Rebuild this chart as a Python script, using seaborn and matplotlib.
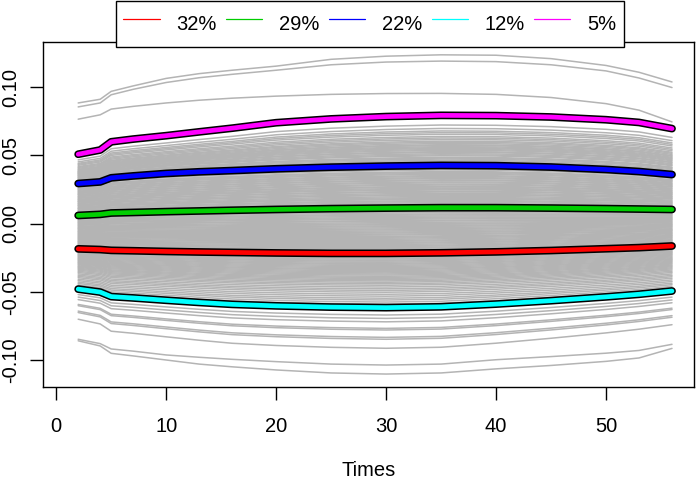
import numpy as np
import pandas as pd
import matplotlib
matplotlib.use("Agg")
import matplotlib.pyplot as plt
from matplotlib.lines import Line2D
import seaborn as sns

# ---------------- data ----------------
times = [2, 4, 5, 7, 10, 13, 16, 20, 25, 30, 35, 40, 45, 50, 53, 56]

cluster_labels = ["32%", "29%", "22%", "12%", "5%"]
cluster_colors = ["#FF0000", "#00CD00", "#0000FF", "#00FFFF", "#FF00FF"]

mean_red = [-0.0185, -0.0190, -0.0196, -0.0199, -0.0204, -0.0208, -0.0211, -0.0215,
            -0.0218, -0.0218, -0.0214, -0.0207, -0.0197, -0.0184, -0.0176, -0.0164]
mean_green = [0.0060, 0.0068, 0.0078, 0.0082, 0.0088, 0.0093, 0.0098, 0.0104,
              0.0110, 0.0114, 0.0117, 0.0117, 0.0114, 0.0110, 0.0107, 0.0104]
mean_blue = [0.0294, 0.0306, 0.0336, 0.0350, 0.0368, 0.0380, 0.0389, 0.0402,
             0.0414, 0.0422, 0.0427, 0.0425, 0.0415, 0.0397, 0.0382, 0.0360]
mean_cyan = [-0.0480, -0.0502, -0.0535, -0.0545, -0.0562, -0.0578, -0.0592, -0.0603,
             -0.0612, -0.0616, -0.0610, -0.0590, -0.0565, -0.0537, -0.0518, -0.0494]
mean_magenta = [0.0509, 0.0540, 0.0600, 0.0620, 0.0645, 0.0673, 0.0700, 0.0740,
                0.0768, 0.0785, 0.0794, 0.0792, 0.0782, 0.0762, 0.0742, 0.0697]
cluster_means = [mean_red, mean_green, mean_blue, mean_cyan, mean_magenta]

# clearly separated individual curves (read at the same times)
outlier_up1 = [0.0885, 0.0912, 0.0970, 0.1010, 0.1065, 0.1100, 0.1125, 0.1155,
               0.1205, 0.1228, 0.1238, 0.1235, 0.1210, 0.1160, 0.1110, 0.1039]
outlier_up2 = [0.0856, 0.0885, 0.0945, 0.0985, 0.1035, 0.1070, 0.1095, 0.1125,
               0.1165, 0.1185, 0.1192, 0.1188, 0.1165, 0.1120, 0.1068, 0.0998]
outlier_up3 = [0.0766, 0.0798, 0.0840, 0.0860, 0.0885, 0.0905, 0.0920, 0.0935,
               0.0948, 0.0954, 0.0955, 0.0948, 0.0925, 0.0880, 0.0832, 0.0746]
outlier_lo1 = [-0.0848, -0.0880, -0.0919, -0.0935, -0.0963, -0.0980, -0.0995, -0.1012,
               -0.1030, -0.1037, -0.1030, -0.0998, -0.0975, -0.0950, -0.0930, -0.0885]
outlier_lo2 = [-0.0859, -0.0897, -0.0951, -0.0970, -0.1000, -0.1030, -0.1050, -0.1073,
               -0.1095, -0.1103, -0.1095, -0.1065, -0.1040, -0.1010, -0.0985, -0.0915]
outlier_curves = [outlier_up1, outlier_up2, outlier_up3, outlier_lo1, outlier_lo2]

# level (value near t = 30) of the remaining grey individual curves
gray_levels = [
    0.0715, 0.0690, 0.0672, 0.0660, 0.0648, 0.0632, 0.0621, 0.0610, 0.0598, 0.0590,
    0.0581, 0.0572, 0.0566, 0.0558, 0.0551, 0.0545,
    0.0538, 0.0531, 0.0522, 0.0516, 0.0507, 0.0499, 0.0492, 0.0481, 0.0475, 0.0468,
    0.0459, 0.0452, 0.0446,
    0.0437, 0.0430, 0.0418, 0.0411, 0.0405, 0.0396, 0.0389, 0.0377, 0.0371, 0.0364,
    0.0357, 0.0348, 0.0341,
    0.0333, 0.0326, 0.0317, 0.0311, 0.0302, 0.0295, 0.0286, 0.0279, 0.0270, 0.0264,
    0.0256, 0.0249, 0.0243,
    0.0234, 0.0228, 0.0219, 0.0211, 0.0205, 0.0196, 0.0188, 0.0181, 0.0175, 0.0166,
    0.0159, 0.0151, 0.0144,
    0.0137, 0.0129, 0.0121, 0.0112, 0.0106, 0.0099, 0.0090, 0.0083, 0.0077, 0.0068,
    0.0061, 0.0053, 0.0045,
    0.0038, 0.0031, 0.0022, 0.0016, 0.0007, -0.0001, -0.0008, -0.0016, -0.0023,
    -0.0031, -0.0039, -0.0046, -0.0054,
    -0.0062, -0.0069, -0.0077, -0.0084, -0.0093, -0.0100, -0.0107, -0.0115, -0.0123,
    -0.0130, -0.0138, -0.0145, -0.0153,
    -0.0161, -0.0168, -0.0176, -0.0183, -0.0192, -0.0199, -0.0206, -0.0214, -0.0222,
    -0.0229, -0.0237, -0.0245, -0.0252,
    -0.0260, -0.0268, -0.0275, -0.0283, -0.0291, -0.0298, -0.0306, -0.0314, -0.0322,
    -0.0330, -0.0337, -0.0345, -0.0353,
    -0.0361, -0.0369, -0.0377, -0.0386, -0.0394, -0.0402, -0.0411, -0.0420, -0.0430,
    -0.0441,
    -0.0452, -0.0465, -0.0478, -0.0490, -0.0503, -0.0518, -0.0532, -0.0547, -0.0560,
    -0.0575, -0.0590, -0.0603,
    -0.0670, -0.0695, -0.0720, -0.0768, -0.0780, -0.0834, -0.0848, -0.0914,
]

# ---------------- build grey curves ----------------
mid_idx = times.index(30)
means_arr = [np.array(m) for m in cluster_means]
order = np.argsort([m[mid_idx] for m in means_arr])
sorted_means = [means_arr[i] for i in order]
sorted_mids = [m[mid_idx] for m in sorted_means]


def curve_for_level(level):
    if level <= sorted_mids[0]:
        lo, hi = 0, 1
    elif level >= sorted_mids[-1]:
        lo, hi = len(sorted_mids) - 2, len(sorted_mids) - 1
    else:
        hi = next(i for i, v in enumerate(sorted_mids) if v >= level)
        lo = hi - 1
    f = (level - sorted_mids[lo]) / (sorted_mids[hi] - sorted_mids[lo])
    return sorted_means[lo] + f * (sorted_means[hi] - sorted_means[lo])


rows = []
cid = 0
for lev in gray_levels:
    for t, v in zip(times, curve_for_level(lev)):
        rows.append((cid, t, v))
    cid += 1
for oc in outlier_curves:
    for t, v in zip(times, oc):
        rows.append((cid, t, v))
    cid += 1
gray_df = pd.DataFrame(rows, columns=["curve", "t", "value"])

# ---------------- plot ----------------
sns.set_style("white")
plt.rcParams["font.family"] = ["Liberation Sans", "DejaVu Sans"]
plt.rcParams["text.color"] = "black"
plt.rcParams["axes.labelcolor"] = "black"

W, H = 697, 479
fig = plt.figure(figsize=(W / 100, H / 100), dpi=100)
ax = fig.add_axes([43 / W, (H - 387) / H, (694 - 43) / W, (387 - 42) / H])

sns.lineplot(data=gray_df, x="t", y="value", units="curve", estimator=None,
             color="#B4B4B4", linewidth=1.1, legend=False, sort=False, ax=ax)

for vals, col in zip(cluster_means, cluster_colors):
    sns.lineplot(x=times, y=vals, color="black", linewidth=5.6, ax=ax,
                 solid_capstyle="round", solid_joinstyle="round")
    sns.lineplot(x=times, y=vals, color=col, linewidth=3.4, ax=ax,
                 solid_capstyle="round", solid_joinstyle="round")

ax.set_xlim(-1.2, 58.0)
ax.set_ylim(-0.1198, 0.1332)
ax.set_xticks([0, 10, 20, 30, 40, 50])
ax.set_xticklabels(["0", "10", "20", "30", "40", "50"])
ax.set_yticks([-0.10, -0.05, 0.0, 0.05, 0.10])
ax.set_yticklabels(["-0.10", "-0.05", "0.00", "0.05", "0.10"], rotation=90, va="center")
ax.tick_params(axis="both", which="both", direction="out", length=9.3, width=1.0,
               colors="black", labelsize=14.5, bottom=True, left=True)
ax.tick_params(axis="x", pad=12.5)
ax.tick_params(axis="y", pad=7)
for s in ax.spines.values():
    s.set_visible(True)
    s.set_color("black")
    s.set_linewidth(1.0)
ax.set_xlabel("Times", fontsize=14.5, labelpad=18, color="black")
ax.set_ylabel("")

handles = [Line2D([0], [0], color=c, lw=0.9) for c in cluster_colors]
leg = fig.legend(handles, cluster_labels, loc="center",
                 bbox_to_anchor=(370 / W, 1 - 24 / H), ncol=5, frameon=True,
                 fancybox=False, edgecolor="black", framealpha=1, fontsize=14.5,
                 handlelength=1.8, handletextpad=0.85, columnspacing=0.45,
                 borderpad=0.35, handleheight=2.0)
leg.get_frame().set_linewidth(1.0)

fig.savefig("out.png", dpi=100)
